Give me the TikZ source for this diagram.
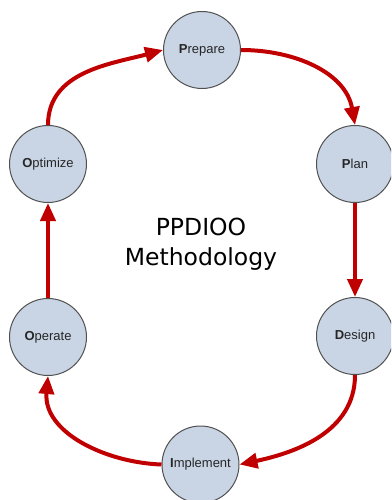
\documentclass[tikz,border=0pt]{standalone}
\usepackage{fontspec}
\setmainfont{Liberation Sans}
\newfontfamily\titlefont{DejaVu Sans}
\usetikzlibrary{arrows.meta}
\definecolor{phasefill}{HTML}{C9D5E5}
\definecolor{phaseline}{HTML}{505050}
\definecolor{cyclered}{HTML}{C00000}
\begin{document}
\begin{tikzpicture}[x=1pt,y=-1pt,
  phase/.style={circle,draw=phaseline,line width=1pt,fill=phasefill,
    minimum size=77pt,inner sep=0pt,text=black!85,font=\fontsize{13}{15}\selectfont},
  phasearrow/.style={draw=cyclered,line width=4pt,
    -{Triangle[length=18pt,width=15pt]}}]
\clip (0,0) rectangle (391,500);
% the six phases
\node [phase] (prepare) at (202,50) {\textbf{P}repare};
\node [phase] (plan) at (355,164) {\textbf{P}lan};
\node [phase] (design) at (355,336) {\textbf{D}esign};
\node [phase] (implement) at (200.5,464.5) {\textbf{I}mplement};
\node [phase] (operate) at (48,337) {\textbf{O}perate};
\node [phase] (optimize) at (48,164) {\textbf{O}ptimize};
\node [align=center,font=\titlefont\fontsize{23.5}{30}\selectfont] (title) at (201,244) {PPDIOO\\Methodology};
% the cycle
\draw [phasearrow] (optimize.north) to[out=90,in=195] (prepare.west);
\draw [phasearrow] (prepare.east) to[out=0,in=100] (plan.north);
\draw [phasearrow] (plan.south) -- (design.north);
\draw [phasearrow] (design.south) to[out=-90,in=12] (implement.east);
\draw [phasearrow] (implement.west) to[out=178,in=-95] (operate.south);
\draw [phasearrow] (operate.north) -- (optimize.south);
\end{tikzpicture}
\end{document}
